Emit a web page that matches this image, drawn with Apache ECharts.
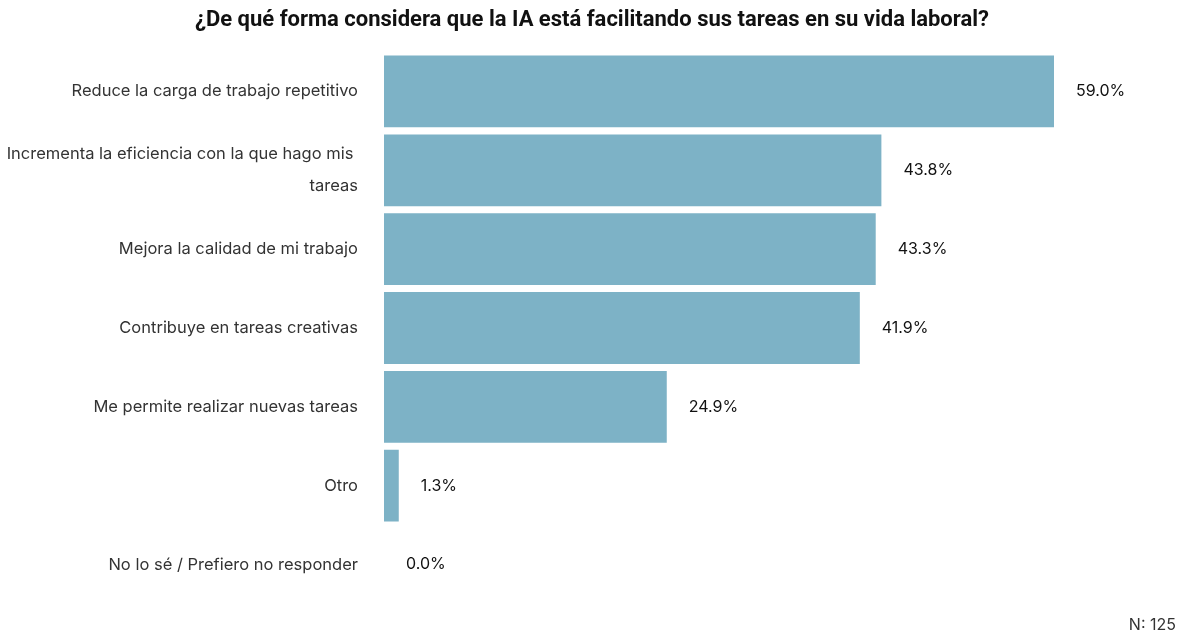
<!DOCTYPE html>
<html><head><meta charset="utf-8">
<script src="https://cdn.jsdelivr.net/npm/echarts@6/dist/echarts.min.js"></script>
<style>html,body{margin:0;padding:0;background:#fff}#c{width:1184px;height:638px}</style>
</head><body><div id="c"></div>
<script>
const categories = [
  "Reduce la carga de trabajo repetitivo",
  "Incrementa la eficiencia con la que hago mis tareas",
  "Mejora la calidad de mi trabajo",
  "Contribuye en tareas creativas",
  "Me permite realizar nuevas tareas",
  "Otro",
  "No lo sé / Prefiero no responder"
];
const values = [59.0, 43.8, 43.3, 41.9, 24.9, 1.3, 0.0];
const titleText = "¿De qué forma considera que la IA está facilitando sus tareas en su vida laboral?";
const noteText = "N: 125";

const chart = echarts.init(document.getElementById('c'), null, {renderer: 'canvas'});
chart.setOption({
  animation: false,
  title: [{
    text: titleText, left: 'center', top: 4,
    textStyle: {fontFamily: 'Roboto', fontWeight: 'bold', fontSize: 22, color: '#111'}
  }, {
    text: noteText, right: 3, bottom: 0,
    textStyle: {fontFamily: 'Inter', fontWeight: 'normal', fontSize: 16, color: '#333'}
  }],
  grid: {left: 384, right: 130, top: 52, bottom: 34, containLabel: false, outerBoundsMode: 'none'},
  xAxis: {type: 'value', min: 0, max: 59, show: false},
  yAxis: {
    type: 'category', data: categories, inverse: true,
    axisLine: {show: false}, axisTick: {show: false}, splitLine: {show: false},
    axisLabel: {
      margin: 26, fontFamily: 'Inter', fontSize: 16.5, color: '#333', lineHeight: 32,
      width: 352, overflow: 'break'
    }
  },
  series: [{
    type: 'bar', data: values, barCategoryGap: '9%',
    itemStyle: {color: '#7db2c6'},
    label: {
      show: true, position: 'right', distance: 22,
      formatter: p => p.value.toFixed(1) + '%',
      fontFamily: 'Inter', fontSize: 16, color: '#111'
    }
  }]
});
</script></body></html>
